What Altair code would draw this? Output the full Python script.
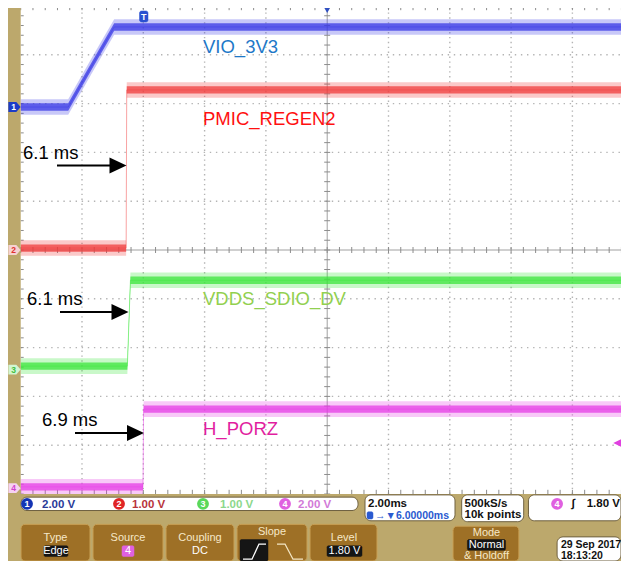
import altair as alt
import numpy as np
import pandas as pd

# ---------------- data ----------------
CHANNELS = ["VIO_3V3", "PMIC_REGEN2", "VDDS_SDIO_DV", "H_PORZ"]
VOLTS_PER_DIV = [2.0, 1.0, 1.0, 2.0]          # from the status bar
GROUND_DIV = [2.93, 0.0, -2.45, -4.88]         # ground markers (divisions from centre)

# time in ms relative to the trigger, voltage in V
VIO_T = [-4.0, -2.45, -1.67, -0.95, 15.85]
VIO_V = [0.0, 0.0, 1.72, 3.28, 3.28]
REGEN_T = [-4.0, -0.56, -0.54, 15.85]
REGEN_V = [0.04, 0.04, 3.28, 3.28]
SDIO_T = [-4.0, -0.52, -0.42, 15.85]
SDIO_V = [0.07, 0.07, 1.83, 1.83]
PORZ_T = [-4.0, -0.01, 0.01, 15.85]
PORZ_V = [0.05, 0.05, 3.24, 3.24]

ANNOT_TEXT = ["6.1 ms", "6.1 ms", "6.9 ms"]

STATUS_SCALES = ["2.00 V", "1.00 V", "1.00 V", "2.00 V"]
TIMEBASE = "2.00ms"
HPOS = "→▼6.00000ms"
SAMPLE_RATE = "500kS/s"
RECORD = "10k points"
TRIG_LEVEL = "1.80 V"
DATE = "29 Sep 2017"
TIME = "18:13:20"

# ---------------- layout / style ----------------
TRACE_COL = ["#3a3ae6", "#f03c3c", "#3ce63c", "#e63ce6"]
LABEL_COL = ["#1e78c8", "#ff1010", "#92d050", "#e11ea0"]
TRIG_PX = 143.3      # page x of trigger
PX_PER_MS = 30.65
ZERO_PY = 250.0      # page y of centre line
PX_PER_DIV = 48.8
W, H = 613, 553


def tx(p):
    return (p - TRIG_PX) / PX_PER_MS


def dy(p):
    return (ZERO_PY - p) / PX_PER_DIV


# status bar is squeezed a little so that it fits the window
def sx(p):
    p = min(p, 629)
    return tx(p if p <= 455 else 455 + (p - 455) * (166.0 / 174.0))


def sy(p):
    p = min(p, 569)
    return dy(494 + (p - 494) * (67.0 / 75.0))


XS = alt.Scale(domain=[tx(8), tx(8 + W)], nice=False, zero=False)
YS = alt.Scale(domain=[dy(8 + H), dy(8)], nice=False, zero=False)


def X(f):
    return alt.X(f"{f}:Q", scale=XS, axis=None)


def Y(f):
    return alt.Y(f"{f}:Q", scale=YS, axis=None)


layers = []

# ---------------- grid ----------------
T_LEFT, T_RIGHT, T_CENTER = -4.0, 16.0, 6.0
gv = pd.DataFrame({"x": [T_CENTER + 2 * k for k in (-4, -3, -2, -1, 1, 2, 3, 4)]})
gv["y"], gv["y2"] = -5.0, 5.0
gh = pd.DataFrame({"y": [float(k) for k in (-4, -3, -2, -1, 1, 2, 3, 4)]})
gh["x"], gh["x2"] = T_LEFT, T_RIGHT
layers.append(alt.Chart(gv).mark_rule(color="#b4b4b4", strokeWidth=1.4, strokeDash=[1.4, 3.5])
              .encode(x=X("x"), y=Y("y"), y2="y2"))
layers.append(alt.Chart(gh).mark_rule(color="#b4b4b4", strokeWidth=1.4, strokeDash=[1.4, 4.7])
              .encode(y=Y("y"), x=X("x"), x2="x2"))
cl = pd.DataFrame({"x": [T_CENTER, T_LEFT], "x2": [T_CENTER, T_RIGHT], "y": [-5.0, 0.0], "y2": [5.0, 0.0]})
layers.append(alt.Chart(cl).mark_rule(color="#a0a0a0", strokeWidth=1)
              .encode(x=X("x"), x2="x2", y=Y("y"), y2="y2"))

hx = 3.0 / PX_PER_MS
hy = 3.0 / PX_PER_DIV
ty = np.round(np.arange(-5, 5.001, 0.2), 3)
tt = np.round(np.arange(T_LEFT, T_RIGHT + 0.001, 0.4), 3)
ticks = pd.concat([
    pd.DataFrame({"x": T_CENTER - hx, "x2": T_CENTER + hx, "y": ty, "y2": ty}),
    pd.DataFrame({"x": T_LEFT, "x2": T_LEFT + hx, "y": ty, "y2": ty}),
    pd.DataFrame({"x": tt, "x2": tt, "y": -hy, "y2": hy}),
    pd.DataFrame({"x": tt, "x2": tt, "y": 5.0 - 1.4 * hy, "y2": 5.0}),
    pd.DataFrame({"x": tt, "x2": tt, "y": -5.0, "y2": -5.0 + 1.4 * hy}),
])
layers.append(alt.Chart(ticks).mark_rule(color="#8c8c8c", strokeWidth=1)
              .encode(x=X("x"), x2="x2", y=Y("y"), y2="y2"))

# ---------------- traces ----------------
rows = []
for name, ts, vs, vd, g in zip(CHANNELS, [VIO_T, REGEN_T, SDIO_T, PORZ_T],
                               [VIO_V, REGEN_V, SDIO_V, PORZ_V], VOLTS_PER_DIV, GROUND_DIV):
    for t, v in zip(ts, vs):
        rows.append({"ch": name, "t": t, "v": v, "vdiv": vd, "g": g})
tr = pd.DataFrame(rows)
col = alt.Color("ch:N", scale=alt.Scale(domain=CHANNELS, range=TRACE_COL), legend=None)
base = alt.Chart(tr).transform_calculate(d="datum.g + datum.v / datum.vdiv")
for half, op in [(0.16, 0.28), (0.075, 0.75)]:
    layers.append(base.transform_calculate(lo=f"datum.d - {half}", hi=f"datum.d + {half}")
                  .mark_area(opacity=op, interpolate="linear")
                  .encode(x=X("t"), y=Y("lo"), y2="hi", color=col))
layers.append(base.mark_line(strokeWidth=1, opacity=0.45)
              .encode(x=X("t"), y=Y("d"), color=col, order="t:Q"))

# ---------------- channel labels ----------------
lab = pd.DataFrame({
    "x": [tx(203)] * 4,
    "y": [dy(53), dy(125), dy(305), dy(435)],
    "text": CHANNELS,
    "c": LABEL_COL,
})
layers.append(alt.Chart(lab).mark_text(align="left", baseline="alphabetic", font="Liberation Sans",
                                       fontSize=18.5)
              .encode(x=X("x"), y=Y("y"), text="text:N", color=alt.Color("c:N", scale=None)))

# ---------------- delay annotations ----------------
ann = pd.DataFrame({
    "text": ANNOT_TEXT,
    "tx": [tx(23), tx(27), tx(42)],
    "ty": [dy(159), dy(305), dy(426)],
    "tail": [tx(57), tx(60), tx(75)],
    "tip": [tx(126.5), tx(128.5), tx(144)],
    "ay": [dy(165.5), dy(312), dy(433)],
})
ann["shaft_end"] = ann["tip"] - 14 / PX_PER_MS
ann["head"] = ann["tip"] - 8.5 / PX_PER_MS
layers.append(alt.Chart(ann).mark_text(align="left", baseline="alphabetic", font="Liberation Sans",
                                       fontSize=18.5, color="black")
              .encode(x=X("tx"), y=Y("ty"), text="text:N"))
layers.append(alt.Chart(ann).mark_rule(color="black", strokeWidth=2)
              .encode(x=X("tail"), x2="shaft_end", y=Y("ay")))
layers.append(alt.Chart(ann).mark_point(shape="M -1 -0.95 L 1 0 L -1 0.95 Z", size=290, filled=True,
                                        color="black", opacity=1)
              .encode(x=X("head"), y=Y("ay")))

# ---------------- bezel / status bar ----------------
BAR = "#bca86c"
bg = pd.DataFrame({
    "x": [tx(8), tx(8)], "x2": [tx(20.7), tx(640)],
    "y": [dy(8), dy(494)], "y2": [dy(494), dy(580)],
    "fill": [BAR, BAR], "stroke": [BAR, BAR],
})


def rects(df, r, sw=1.0):
    return (alt.Chart(df).mark_rect(cornerRadius=r, strokeWidth=sw)
            .encode(x=X("x"), x2="x2", y=Y("y"), y2="y2",
                    fill=alt.Fill("fill:N", scale=None), stroke=alt.Stroke("stroke:N", scale=None)))


layers.append(rects(bg, 0, 0))


def box(x1, x2, y1, y2, fill, stroke):
    return {"x": sx(x1), "x2": sx(x2), "y": sy(y1), "y2": sy(y2), "fill": fill, "stroke": stroke}


white_boxes = pd.DataFrame([
    box(21, 358, 497.5, 512.5, "white", "#6e6040"),
    box(365, 455, 495, 524, "white", "#6e6040"),
    box(462, 527, 495, 525, "white", "#6e6040"),
    box(532, 640, 495, 524, "white", "#6e6040"),
    box(562, 640, 542, 580, "white", "#6e6040"),
])
layers.append(rects(white_boxes, 6, 1))
BTN, BTN_EDGE = "#9e7026", "#c9a055"
buttons = pd.DataFrame([
    box(21, 90, 528, 580, BTN, BTN_EDGE),
    box(93, 163, 528, 580, BTN, BTN_EDGE),
    box(166, 234, 528, 580, BTN, BTN_EDGE),
    box(237, 307, 528, 580, BTN, BTN_EDGE),
    box(310, 377, 528, 580, BTN, BTN_EDGE),
    box(453, 522, 530, 580, BTN, BTN_EDGE),
])
layers.append(rects(buttons, 4, 1))
hl = pd.DataFrame([
    box(44, 68, 552, 564, "#151515", "#151515"),
    box(122, 134, 552, 564, "#e060e0", "#e060e0"),
    box(240, 268, 545, 575, "#151515", "#151515"),
    box(327, 362, 552, 564, "#151515", "#151515"),
    box(468, 508, 545, 557, "#151515", "#151515"),
    box(367, 373, 514, 522, "#2a5ad0", "#2a5ad0"),
])
layers.append(rects(hl, 1.5, 0.5))

# slope icons
icons = pd.DataFrame({
    "k": ["up"] * 4 + ["down"] * 4,
    "x": [sx(p) for p in (243, 252, 259, 266, 277, 285, 293, 303)],
    "y": [sy(p) for p in (567, 567, 550, 550, 550, 550, 567, 567)],
    "o": list(range(8)),
    "c": ["#ffffff"] * 4 + ["#f3e6c4"] * 4,
})
layers.append(alt.Chart(icons).mark_line(strokeWidth=1.3)
              .encode(x=X("x"), y=Y("y"), detail="k:N", order="o:Q",
                      color=alt.Color("c:N", scale=None)))

# channel discs in status bar + left ground markers
disc = pd.DataFrame({
    "x": [sx(27), sx(119), sx(203), sx(285), sx(562)],
    "y": [sy(505)] * 4 + [sy(505)],
    "t": ["1", "2", "3", "4", "4"],
    "c": ["#1434b4", "#e02424", "#5ad85a", "#e060e0", "#e060e0"],
})
layers.append(alt.Chart(disc).mark_point(shape="circle", size=140, filled=True, opacity=1)
              .encode(x=X("x"), y=Y("y"), color=alt.Color("c:N", scale=None)))
layers.append(alt.Chart(disc).mark_text(font="Liberation Sans", fontSize=9, fontWeight="bold",
                                        color="white", baseline="middle", align="center")
              .encode(x=X("x"), y=Y("y"), text="t:N"))

gm = pd.DataFrame({
    "x": [tx(14.5)] * 4,
    "y": GROUND_DIV,
    "t": ["1", "2", "3", "4"],
    "fill": ["#1c3cc8", "#f6d2d2", "#d2f6d2", "#f6d2f2"],
    "tc": ["white", "#e03030", "#40c040", "#d040d0"],
})
layers.append(alt.Chart(gm).mark_point(shape="M -1 -0.8 L 0.3 -0.8 L 1 0 L 0.3 0.8 L -1 0.8 Z",
                                       size=150, filled=True, opacity=1)
              .encode(x=X("x"), y=Y("y"), color=alt.Color("fill:N", scale=None)))
layers.append(alt.Chart(gm).mark_text(font="Liberation Sans", fontSize=8.5, fontWeight="bold",
                                      baseline="middle", align="center", dx=-1)
              .encode(x=X("x"), y=Y("y"), text="t:N", color=alt.Color("tc:N", scale=None)))

# trigger / position markers on the screen
mk = pd.DataFrame({"x": [tx(327.2)], "y": [dy(10)]})
layers.append(alt.Chart(mk).mark_point(shape="triangle-down", size=45, filled=True, color="#3050c0",
                                       opacity=1).encode(x=X("x"), y=Y("y")))
tm = pd.DataFrame([{"x": tx(139.5), "x2": tx(148), "y": dy(11), "y2": dy(22),
                    "fill": "#2a50d0", "stroke": "#2a50d0"}])
layers.append(rects(tm, 2, 0.5))
tmt = pd.DataFrame({"x": [tx(143.7)], "y": [dy(20)], "t": ["T"]})
layers.append(alt.Chart(tmt).mark_text(font="Liberation Sans", fontSize=9, fontWeight="bold",
                                       color="white", baseline="alphabetic", align="center")
              .encode(x=X("x"), y=Y("y"), text="t:N"))
lvl = pd.DataFrame({"x": [tx(618)], "y": [dy(443)]})
layers.append(alt.Chart(lvl).mark_point(shape="M 1 -1 L -1 0 L 1 1 Z", size=90, filled=True,
                                        color="#e040e0", opacity=1).encode(x=X("x"), y=Y("y")))

# ---------------- status bar texts ----------------
FONT = "Liberation Sans"
row1 = pd.DataFrame({
    "x": [sx(p) for p in (42, 132, 220, 298, 368, 465, 465, 577, 593)],
    "y": [sy(p) for p in (510, 510, 510, 510, 508, 508, 521, 509, 509)],
    "t": STATUS_SCALES + [TIMEBASE, SAMPLE_RATE, RECORD, "∫", TRIG_LEVEL],
    "c": ["#2a3a98", "#b8343c", "#8cd88c", "#d27ad8", "#111111", "#111111", "#111111",
          "#111111", "#111111"],
})
layers.append(alt.Chart(row1).mark_text(align="left", baseline="alphabetic", font=FONT,
                                        fontSize=11.5, fontWeight="bold")
              .encode(x=X("x"), y=Y("y"), text="t:N", color=alt.Color("c:N", scale=None)))
small = pd.DataFrame({
    "x": [sx(375), sx(566), sx(566)],
    "y": [sy(521.5), sy(555), sy(567)],
    "t": [HPOS, DATE, TIME],
    "c": ["#2a5ad0", "#111111", "#111111"],
})
layers.append(alt.Chart(small).mark_text(align="left", baseline="alphabetic", font=FONT,
                                         fontSize=10.5, fontWeight="bold")
              .encode(x=X("x"), y=Y("y"), text="t:N", color=alt.Color("c:N", scale=None)))

btn_txt = pd.DataFrame({
    "x": [sx(p) for p in (55.5, 56, 128, 128, 200, 200, 272, 344, 344.5, 488, 488, 488)],
    "y": [sy(p) for p in (547, 561, 547, 561, 547, 561, 540, 547, 561, 541, 555, 567)],
    "t": ["Type", "Edge", "Source", "4", "Coupling", "DC", "Slope", "Level", "1.80 V", "Mode",
          "Normal", "& Holdoff"],
    "c": ["#f6e8c8", "white", "#f6e8c8", "white", "#f6e8c8", "white", "#f6e8c8", "#f6e8c8",
          "white", "#f6e8c8", "white", "#f6e8c8"],
})
layers.append(alt.Chart(btn_txt).mark_text(align="center", baseline="alphabetic", font=FONT,
                                           fontSize=11)
              .encode(x=X("x"), y=Y("y"), text="t:N", color=alt.Color("c:N", scale=None)))

chart = (alt.layer(*layers)
         .properties(width=W, height=H, padding=0, background="white",
                     autosize=alt.AutoSizeParams(type="none"))
         .configure_view(stroke=None))

chart.save("out.html", embed_options={"renderer": "svg", "actions": False})
